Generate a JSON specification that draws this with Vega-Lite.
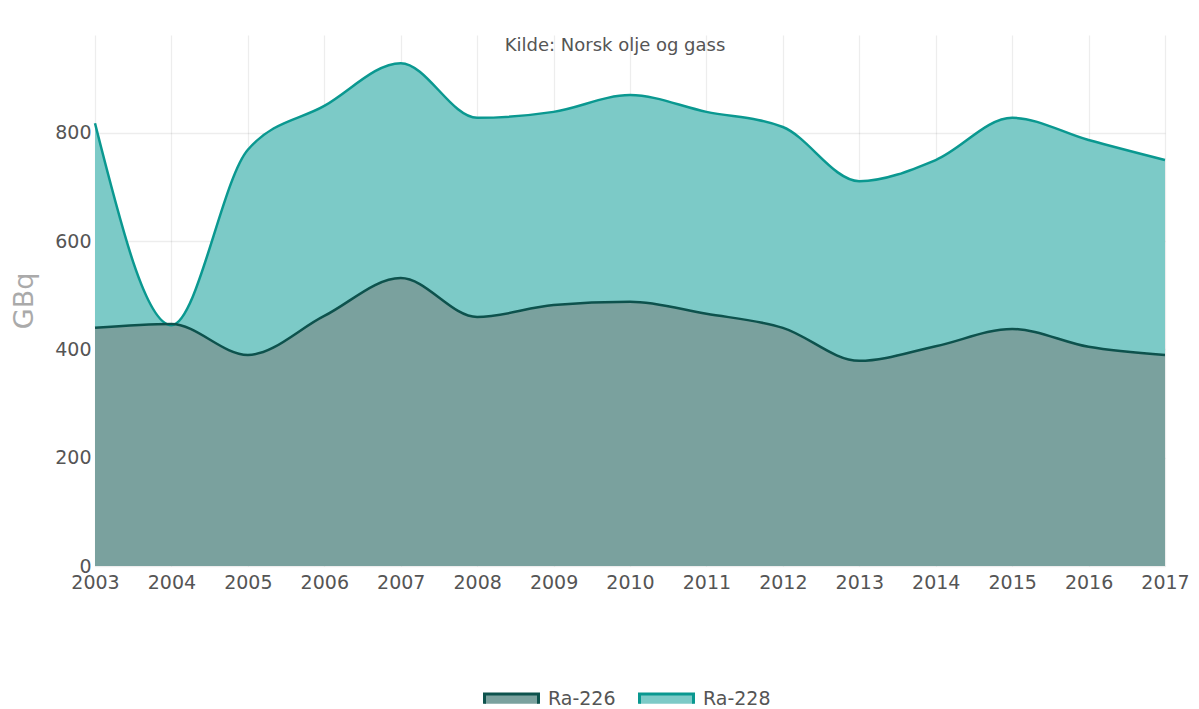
{
  "$schema": "https://vega.github.io/schema/vega-lite/v6.json",
  "autosize": "none",
  "width": 1070,
  "height": 531,
  "padding": {"left": 95, "top": 35, "right": 34, "bottom": 143},
  "background": "white",
  "title": {
    "text": "Kilde: Norsk olje og gass",
    "font": "DejaVu Sans",
    "fontSize": 18,
    "fontWeight": "normal",
    "color": "#555",
    "anchor": "middle",
    "baseline": "alphabetic",
    "offset": -34,
    "dx": -15
  },
  "config": {
    "view": {"stroke": null},
    "font": "DejaVu Sans",
    "axis": {
      "labelFont": "DejaVu Sans",
      "labelFontSize": 19,
      "labelColor": "#555",
      "ticks": false,
      "domain": false,
      "gridColor": "#000",
      "gridOpacity": 0.07,
      "gridWidth": 1.3,
      "zindex": 1
    },
    "legend": {
      "labelFont": "DejaVu Sans",
      "labelFontSize": 19,
      "labelColor": "#555",
      "symbolStrokeWidth": 3,
      "padding": 0
    }
  },
  "data": {
    "values": [
      {"year": 2003, "ra226": 440, "ra228": 818},
      {"year": 2004, "ra226": 447, "ra228": 445},
      {"year": 2005, "ra226": 390, "ra228": 769},
      {"year": 2006, "ra226": 462, "ra228": 850},
      {"year": 2007, "ra226": 532, "ra228": 929},
      {"year": 2008, "ra226": 460, "ra228": 828},
      {"year": 2009, "ra226": 482, "ra228": 839},
      {"year": 2010, "ra226": 488, "ra228": 870},
      {"year": 2011, "ra226": 466, "ra228": 839},
      {"year": 2012, "ra226": 440, "ra228": 811},
      {"year": 2013, "ra226": 379, "ra228": 711},
      {"year": 2014, "ra226": 406, "ra228": 750},
      {"year": 2015, "ra226": 438, "ra228": 828},
      {"year": 2016, "ra226": 405, "ra228": 787},
      {"year": 2017, "ra226": 390, "ra228": 750}
    ]
  },
  "encoding": {
    "x": {
      "field": "year",
      "type": "quantitative",
      "scale": {"domain": [2003, 2017], "nice": false, "zero": false},
      "axis": {
        "title": null,
        "format": "d",
        "values": [2003, 2004, 2005, 2006, 2007, 2008, 2009, 2010, 2011, 2012, 2013, 2014, 2015, 2016, 2017],
        "labelPadding": 7,
        "labelFlush": false,
        "labelOverlap": false
      }
    }
  },
  "layer": [
    {
      "mark": {"type": "area", "interpolate": "monotone"},
      "encoding": {
        "y": {
          "field": "ra228",
          "type": "quantitative",
          "scale": {"domain": [0, 981], "nice": false},
          "axis": {
            "title": "GBq",
            "titleFont": "DejaVu Sans",
            "titleFontSize": 27,
            "titleFontWeight": "normal",
            "titleColor": "#aaa",
            "titlePadding": 16,
            "values": [0, 200, 400, 600, 800],
            "labelPadding": 4
          }
        },
        "y2": {"field": "ra226"},
        "fill": {
          "datum": "Ra-228",
          "scale": {"domain": ["Ra-226", "Ra-228"], "range": ["#7aa19e", "#7ccac7"]},
          "legend": {
            "title": null,
            "orient": "none",
            "legendX": 388,
            "legendY": 635,
            "direction": "horizontal",
            "symbolType": "M-1,0.18L-1,-0.18L1,-0.18L1,0.18",
            "symbolSize": 2916,
            "symbolOpacity": 1,
            "labelOffset": 8,
            "columnPadding": 17
          }
        }
      }
    },
    {
      "mark": {"type": "area", "interpolate": "monotone"},
      "encoding": {
        "y": {"field": "ra226", "type": "quantitative"},
        "fill": {"datum": "Ra-226"}
      }
    },
    {
      "mark": {"type": "line", "interpolate": "monotone", "strokeWidth": 2.5},
      "encoding": {
        "y": {"field": "ra228", "type": "quantitative"},
        "stroke": {
          "datum": "Ra-228",
          "scale": {"domain": ["Ra-226", "Ra-228"], "range": ["#0d524d", "#0a9890"]},
          "legend": {
            "title": null,
            "orient": "none",
            "legendX": 388,
            "legendY": 635,
            "direction": "horizontal",
            "symbolType": "M-1,0.18L-1,-0.18L1,-0.18L1,0.18",
            "symbolSize": 2916,
            "labelOffset": 8,
            "columnPadding": 17
          }
        }
      }
    },
    {
      "mark": {"type": "line", "interpolate": "monotone", "strokeWidth": 2.5},
      "encoding": {
        "y": {"field": "ra226", "type": "quantitative"},
        "stroke": {"datum": "Ra-226"}
      }
    },
    {
      "mark": {"type": "rule", "color": "#2a3a38", "strokeWidth": 2},
      "encoding": {"y": {"datum": 0}}
    }
  ]
}
